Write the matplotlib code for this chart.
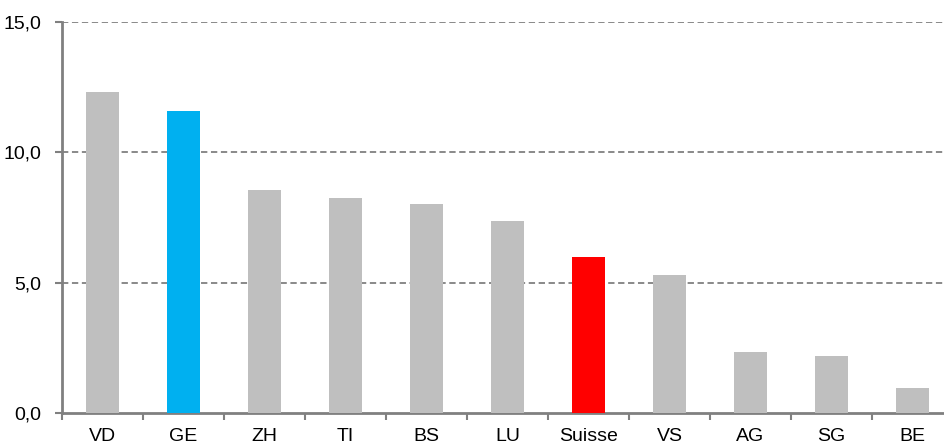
import numpy as np
import matplotlib
matplotlib.use("Agg")
import matplotlib.pyplot as plt
from matplotlib.ticker import FixedLocator, FuncFormatter

cantons = ['VD', 'GE', 'ZH', 'TI', 'BS', 'LU', 'Suisse', 'VS', 'AG', 'SG', 'BE']
values = [12.3, 11.6, 8.55, 8.25, 8.0, 7.35, 6.0, 5.3, 2.35, 2.2, 0.95]
colors = ['#BFBFBF', '#00B0F0', '#BFBFBF', '#BFBFBF', '#BFBFBF', '#BFBFBF',
          '#FF0000', '#BFBFBF', '#BFBFBF', '#BFBFBF', '#BFBFBF']
yticks = [0, 5, 10, 15]

plt.rcParams['font.family'] = ['Liberation Sans Narrow', 'Liberation Sans', 'DejaVu Sans']

fig = plt.figure(figsize=(9.44, 4.48), dpi=100)
ax = fig.add_axes([62/944, 35/448, 882/944, 391/448])

x = np.arange(len(cantons))
ax.bar(x, values, width=0.41, color=colors, zorder=3)

ax.set_ylim(0, 15)
ax.set_xlim(-0.5, -0.5 + 882/81)
ax.set_yticks(yticks)
ax.yaxis.set_major_formatter(FuncFormatter(lambda v, p: ('%.1f' % v).replace('.', ',')))
for t in yticks[1:]:
    ax.axhline(t, color='#808080', lw=1.3, ls=(0, (3.5, 2)), zorder=1)

ax.set_xticks(x)
ax.set_xticklabels(cantons)
ax.xaxis.set_minor_locator(FixedLocator(np.arange(-0.5, 11, 1)))
ax.tick_params(axis='x', which='major', length=0, pad=11, labelsize=14)
ax.tick_params(axis='x', which='minor', length=5, width=1.5, color='#808080')
ax.tick_params(axis='y', length=5, width=1.5, color='#808080', pad=10, labelsize=14)

for s in ['top', 'right']:
    ax.spines[s].set_visible(False)
for s in ['left', 'bottom']:
    ax.spines[s].set_color('#808080')
    ax.spines[s].set_linewidth(2)

fig.savefig('out.png', dpi=100)
